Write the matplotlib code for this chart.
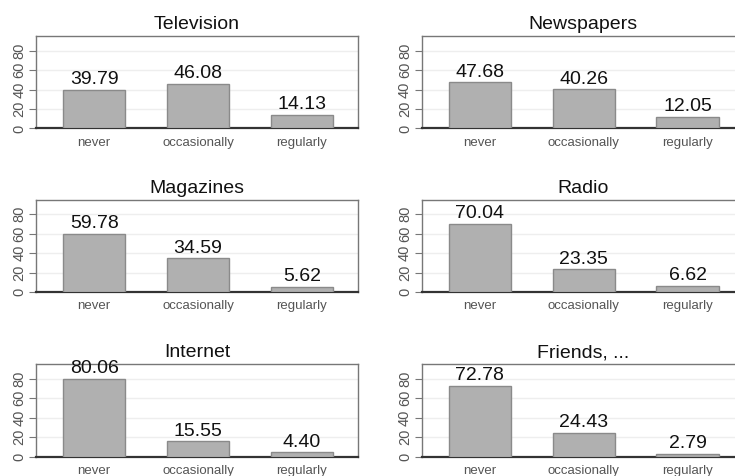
import numpy as np
import matplotlib.pyplot as plt

categories = ['never', 'occasionally', 'regularly']
titles = ['Television', 'Newspapers', 'Magazines', 'Radio', 'Internet', 'Friends, ...']
television = [39.79, 46.08, 14.13]
newspapers = [47.68, 40.26, 12.05]
magazines = [59.78, 34.59, 5.62]
radio = [70.04, 23.35, 6.62]
internet = [80.06, 15.55, 4.40]
friends = [72.78, 24.43, 2.79]
series = [television, newspapers, magazines, radio, internet, friends]

plt.rcParams['font.family'] = ['Liberation Sans', 'DejaVu Sans']

fig = plt.figure(figsize=(7.35, 4.76), dpi=100)
fig.patch.set_facecolor('white')

W, H = 735, 476
lefts = [36, 421.7]
tops = [36, 199.5, 364]
box_w, box_h = 322, 92.5

x = np.arange(len(categories))
for i, (title, vals) in enumerate(zip(titles, series)):
    row, col = divmod(i, 2)
    ax = fig.add_axes([lefts[col] / W, 1 - (tops[row] + box_h) / H, box_w / W, box_h / H])
    ax.bar(x, vals, width=0.6, color='#b0b0b0', edgecolor='#8a8a8a', linewidth=1, zorder=3)
    for xi, v in zip(x, vals):
        ax.annotate(f'{v:.2f}', (xi, v), xytext=(0, 1), textcoords='offset points',
                    ha='center', va='bottom', fontsize=14, color='#111111', clip_on=False, zorder=4)
    ax.set_xlim(-0.56, 2.54)
    ax.set_ylim(0, 95)
    ax.set_yticks([0, 20, 40, 60, 80])
    ax.set_yticklabels(['0', '20', '40', '60', '80'], rotation=90, va='center')
    ax.set_xticks(x)
    ax.set_xticklabels(categories)
    ax.tick_params(axis='x', length=0, pad=6, labelsize=9.5, labelcolor='#555555')
    ax.tick_params(axis='y', length=5, width=0.8, color='#777777', pad=2,
                   labelsize=10.5, labelcolor='#555555')
    ax.grid(axis='y', color='#eeeeee', linewidth=1, zorder=0)
    for side in ['left', 'top', 'right']:
        ax.spines[side].set_color('#777777')
        ax.spines[side].set_linewidth(1)
    ax.spines['bottom'].set_color('#333333')
    ax.spines['bottom'].set_linewidth(1.6)
    ax.set_title(title, fontsize=14, pad=5, color='#111111')

fig.savefig('out.png', dpi=100, facecolor='white')
